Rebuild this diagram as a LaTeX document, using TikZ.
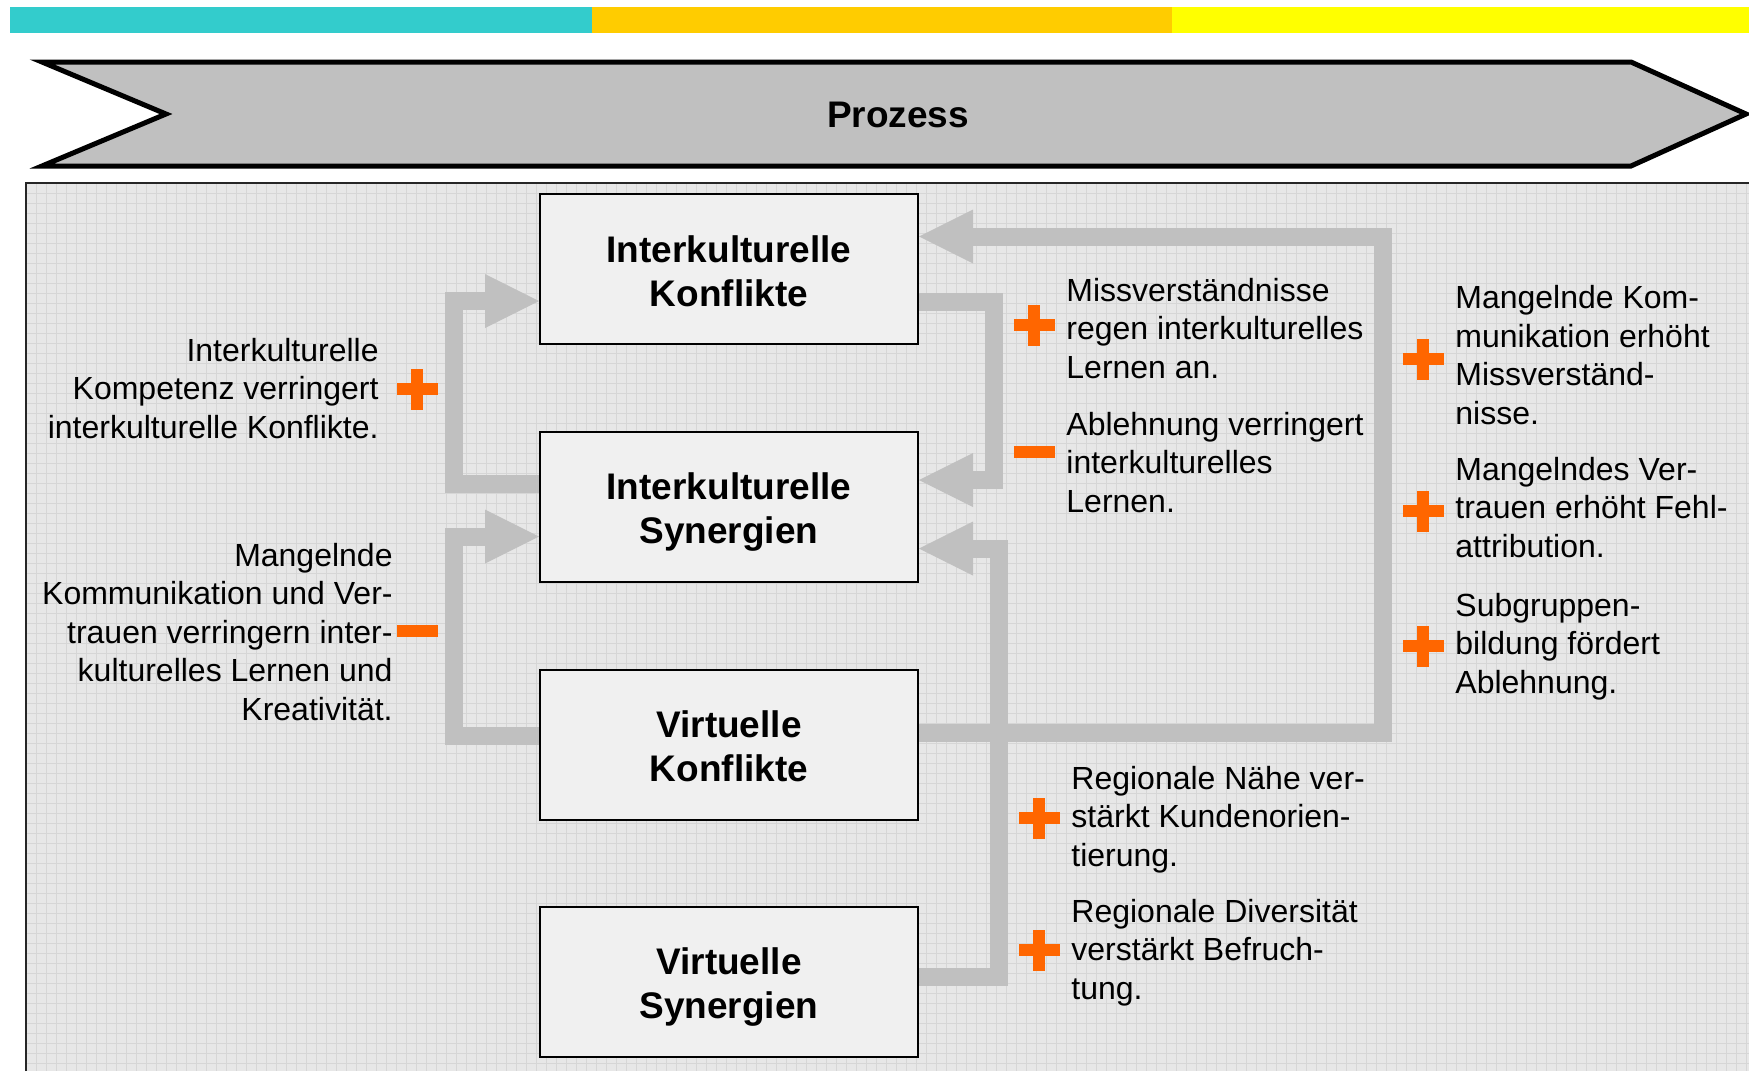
\documentclass[tikz,border=0pt]{standalone}
\usepackage{fontspec}
\setmainfont{Liberation Sans}
\usetikzlibrary{arrows.meta,calc}
\definecolor{cyanbar}{HTML}{33CCCC}
\definecolor{orangebar}{HTML}{FFCC00}
\definecolor{yellowbar}{HTML}{FFFF00}
\definecolor{chev}{HTML}{C0C0C0}
\definecolor{panelc}{HTML}{E7E7E7}
\definecolor{gridc}{HTML}{D6D6D6}
\definecolor{conc}{HTML}{C0C0C0}
\definecolor{boxc}{HTML}{F0F0F0}
\definecolor{signc}{HTML}{FF6600}
\begin{document}
\begin{tikzpicture}[x=0.5pt,y=-0.5pt,
  box/.style={draw=black, line width=1pt, fill=boxc, minimum width=189pt, minimum height=75pt,
    inner sep=0pt},
  boxtext/.style={inner sep=0pt, align=center, font=\fontsize{18.5}{22}\selectfont\bfseries},
  conn/.style={draw=conc, line width=9pt, line join=miter,
    -{Triangle[length=27pt,width=27pt,line width=0pt]}},
  txt/.style={inner sep=0pt, font=\fontsize{16}{19.25}\selectfont},
  ltxt/.style={txt, align=left, anchor=base west},
  rtxt/.style={txt, align=right, anchor=base east},
  plussign/.pic={\fill[signc] (-20.5,-6) rectangle (20.5,6); \fill[signc] (-6,-20.5) rectangle (6,20.5);},
  minussign/.pic={\fill[signc] (-20.5,-6) rectangle (20.5,6);}
]
\useasboundingbox (0,0) rectangle (1749,1071);
% top colour bar
\fill[cyanbar] (10,7) rectangle (592,33);
\fill[orangebar] (592,7) rectangle (1172,33);
\fill[yellowbar] (1172,7) rectangle (1749,33);
% process chevron
\draw[line width=2.5pt, fill=chev, line join=miter]
  (42,62) -- (1631,62) -- (1746,114) -- (1631,166) -- (42,166) -- (166,114) -- cycle;
\node[font=\fontsize{18.5}{22}\selectfont\bfseries, inner sep=0pt] (proc) at (898,115) {Prozess};
% panel with grid
\fill[panelc] (26,183) rectangle (1749,1071);
\foreach \x in {36,46,...,1746} \draw[gridc, line width=0.5pt] (\x,184) -- (\x,1071);
\foreach \y in {193,203,...,1063} \draw[gridc, line width=0.5pt] (27,\y) -- (1749,\y);
\draw[line width=0.8pt, black!85] (26,1071) -- (26,183) -- (1749,183);
% boxes
\node[box] (b1) at (729,268.5) {};
\node[box] (b2) at (729,506.5) {};
\node[box] (b3) at (729,744.5) {};
\node[box] (b4) at (729,982) {};
% connectors
\draw[conn] ($(b2.west)+(0,-22.5)$) -- ++(-85,0) |- ($(b1.west)+(0,32.5)$);
\draw[conn] ($(b3.west)+(0,-9)$) -- ++(-85,0) |- ($(b2.west)+(0,30)$);
\draw[conn] ($(b1.east)+(0,33)$) -- ++(75,0) |- ($(b2.east)+(0,-26.5)$);
\draw[conn] ($(b3.east)+(0,-12)$) -- ++(464,0) |- ($(b1.east)+(0,-32)$);
\draw[conn] ($(b4.east)+(0,-5)$) -- ++(79.5,0) |- ($(b2.east)+(0,42)$);
% box labels
\node[boxtext] (l1) at ($(b1)+(0,3)$) {Interkulturelle\\Konflikte};
\node[boxtext] (l2) at ($(b2)+(0,6)$) {Interkulturelle\\Synergien};
\node[boxtext] (l3) at ($(b3)+(0,2)$) {Virtuelle\\Konflikte};
\node[boxtext] (l4) at ($(b4)+(0,5)$) {Virtuelle\\Synergien};
% texts (anchored at baseline of last line)
\node[rtxt] (t1) at (379,438) {Interkulturelle\\Kompetenz verringert\\interkulturelle Konflikte.};
\node[rtxt] (t2) at (393,720) {Mangelnde\\Kommunikation und Ver-\\trauen verringern inter-\\kulturelles Lernen und\\Kreativität.};
\node[ltxt] (t3) at (1066,378) {Missverständnisse\\regen interkulturelles\\Lernen an.};
\node[ltxt] (t4) at (1066,512) {Ablehnung verringert\\interkulturelles\\Lernen.};
\node[ltxt] (t5) at (1455,424) {Mangelnde Kom-\\munikation erhöht\\Missverständ-\\nisse.};
\node[ltxt] (t6) at (1455,557) {Mangelndes Ver-\\trauen erhöht Fehl-\\attribution.};
\node[ltxt] (t7) at (1455,693) {Subgruppen-\\bildung fördert\\Ablehnung.};
\node[ltxt] (t8) at (1071,866) {Regionale Nähe ver-\\stärkt Kundenorien-\\tierung.};
\node[ltxt] (t9) at (1071,999) {Regionale Diversität\\verstärkt Befruch-\\tung.};
% signs
\pic at (417,389) {plussign};
\pic at (417,631) {minussign};
\pic at (1034,325) {plussign};
\pic at (1034,452) {minussign};
\pic at (1423,359) {plussign};
\pic at (1423,511) {plussign};
\pic at (1423,646) {plussign};
\pic at (1039,818) {plussign};
\pic at (1039,950) {plussign};
\end{tikzpicture}
\end{document}
